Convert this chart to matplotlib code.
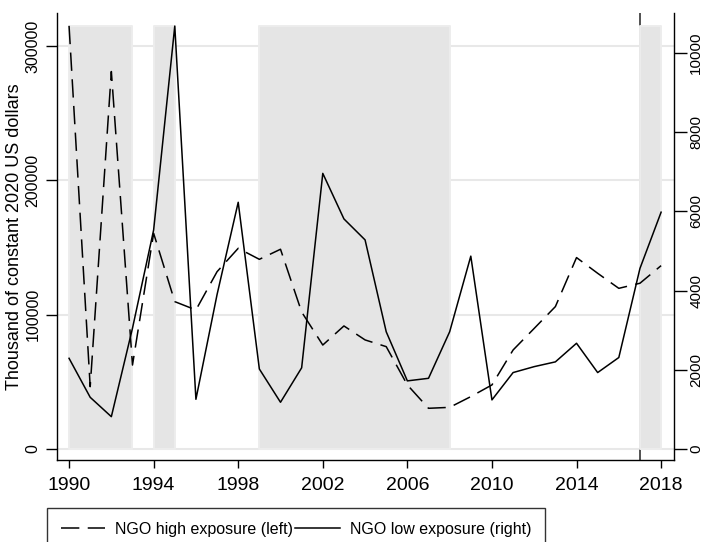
import matplotlib
matplotlib.use("Agg")
import matplotlib.pyplot as plt
from matplotlib.lines import Line2D

plt.rcParams["font.family"] = ["Liberation Sans", "DejaVu Sans"]

years = list(range(1990, 2019))

# NGO high exposure, left axis (thousand constant 2020 USD)
high_exposure = [
    315000, 46400, 281000, 62500, 160600, 109700, 103500, 132000, 149400, 141200,
    148700, 102000, 77400, 91600, 81200, 76200, 47700, 30300, 31000, 39000,
    47700, 73700, 89800, 106000, 142500, 130800, 119600, 123400, 136500,
]

# NGO low exposure, right axis
low_exposure = [
    2290, 1305, 816, 3050, 5530, 10680, 1255, 3900, 6230, 2020,
    1180, 2050, 6960, 5810, 5280, 2960, 1720, 1785, 2960, 4870,
    1240, 1930, 2080, 2200, 2670, 1930, 2310, 4560, 5980,
]

shaded_periods = [(1990, 1993), (1994, 1995), (1999, 2008), (2017, 2018)]
marker_year = 2017

x_ticks = list(range(1990, 2019, 4))
left_ticks = [0, 100000, 200000, 300000]
right_ticks = [0, 2000, 4000, 6000, 8000, 10000]

legend_labels = ["NGO high exposure (left)", "NGO low exposure (right)"]

fig = plt.figure(figsize=(7.02, 5.42), dpi=100)
ax = fig.add_axes([57 / 702, 1 - 460 / 542, 617 / 702, 447 / 542])
ax2 = ax.twinx()

ax.set_xlim(1989.43, 2018.61)
ax.set_ylim(-8190, 324570)
ax2.set_ylim(-278, 11010)

# grid behind shading
for t in left_ticks:
    ax.axhline(t, color="#e8e8e8", lw=1.5, zorder=0.2)

ax.axvline(marker_year, color="#333333", lw=1.2, zorder=0.5)

shade_top = max(high_exposure)
for a, b in shaded_periods:
    ax.fill_between([a, b], 0, shade_top, facecolor="#e5e5e5",
                    edgecolor="#ededed", lw=1.4, zorder=1)

dash = (0, (12, 5.5))
ax.plot(years, high_exposure, color="black", lw=1.1, linestyle=dash, zorder=3)
ax2.plot(years, low_exposure, color="black", lw=1.1, zorder=3)

ax.set_xticks(x_ticks)
ax.set_yticks(left_ticks)
ax2.set_yticks(right_ticks)

ax.tick_params(axis="x", labelsize=14, length=6, width=1, pad=6)
ax.tick_params(axis="y", labelsize=11.5, length=8, width=1, pad=4, labelrotation=90)
ax2.tick_params(axis="y", labelsize=11, length=9, width=1, pad=2, labelrotation=90)
for lab in ax.get_yticklabels() + ax2.get_yticklabels():
    lab.set_verticalalignment("center")

for a in (ax, ax2):
    a.spines["top"].set_visible(False)
    for s in ("left", "right", "bottom"):
        a.spines[s].set_linewidth(1)
ax.spines["right"].set_visible(False)
ax2.spines["left"].set_visible(False)
ax2.spines["bottom"].set_visible(False)

ax.set_ylabel("Thousand of constant 2020 US dollars", fontsize=13)
ax.yaxis.set_label_coords(-0.055, 0.5)

handles = [
    Line2D([], [], color="black", lw=1.1, linestyle=dash),
    Line2D([], [], color="black", lw=1.1),
]
leg = fig.legend(
    handles, legend_labels,
    loc="upper left", bbox_to_anchor=(47 / 702, 1 - 508 / 542),
    ncol=2, frameon=True, fancybox=False,
    edgecolor="black", handlelength=2.8, handletextpad=0.6,
    columnspacing=0.15, borderpad=0.85, borderaxespad=0,
    prop={"size": 11.5},
)
leg.get_frame().set_linewidth(1)

fig.savefig("out.png", dpi=100)
